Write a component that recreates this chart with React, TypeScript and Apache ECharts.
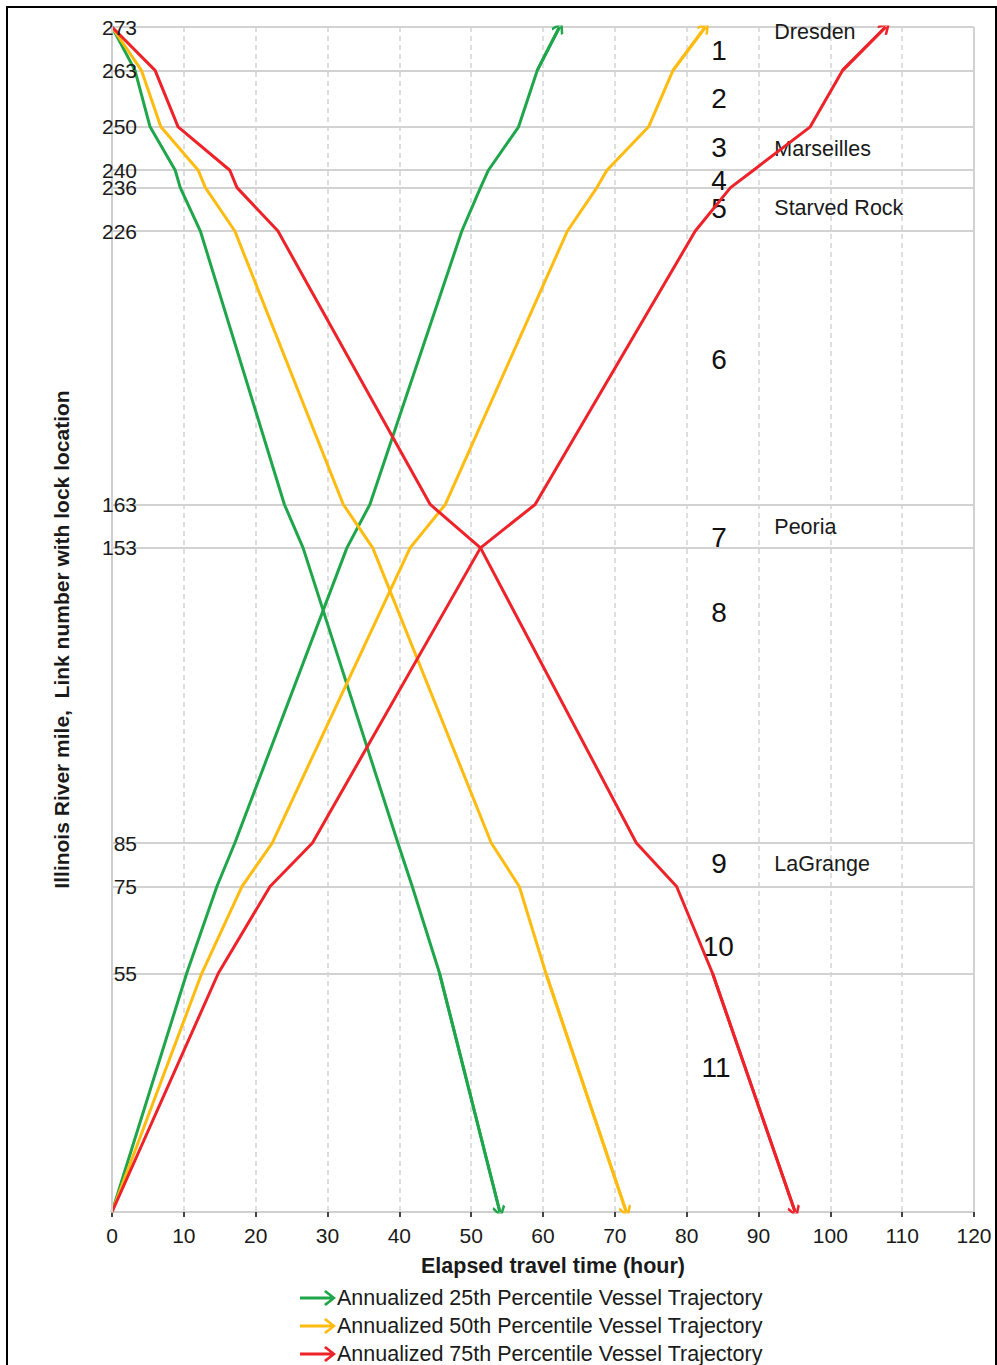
import React, { useEffect, useRef } from "react";
import * as echarts from "echarts";

// River miles, downstream order (Dresden -> mouth) and upstream order
const milesDown = [273, 263, 250, 240, 236, 226, 163, 153, 85, 75, 55, 0];
const milesUp = [0, 55, 75, 85, 153, 163, 226, 236, 240, 250, 263, 273];

// Elapsed travel time (hours) at each mile
const green25Down = [0, 3.2, 5.3, 8.8, 9.5, 12.3, 24.0, 26.6, 39.8, 41.8, 45.6, 54.0];
const green25Up = [0, 10.4, 14.6, 17.1, 32.7, 35.9, 48.7, 51.3, 52.4, 56.6, 59.2, 62.3];
const yellow50Down = [0, 4.1, 6.8, 12.0, 13.0, 17.1, 32.2, 36.3, 52.8, 56.7, 60.4, 71.6];
const yellow50Up = [0, 12.5, 18.1, 22.3, 41.5, 46.4, 63.4, 67.5, 68.9, 74.7, 78.1, 82.6];
const red75Down = [0, 6.0, 9.2, 16.4, 17.4, 23.1, 44.3, 51.3, 73.0, 78.6, 83.6, 95.1];
const red75Up = [0, 14.8, 22.0, 27.9, 51.3, 58.9, 81.2, 86.1, 89.3, 97.2, 101.7, 107.7];

// Y-axis tick labels (lock / link boundary miles)
const yTickValues = [55, 75, 85, 153, 163, 226, 236, 240, 250, 263, 273];

// Link numbers and their label positions (time, mile)
const linkNumbers = ["1", "2", "3", "4", "5", "6", "7", "8", "9", "10", "11"];
const linkLabelTime = [84.5, 84.5, 84.5, 84.5, 84.5, 84.5, 84.5, 84.5, 84.5, 84.4, 84.1];
const linkLabelMile = [267.7, 256.5, 245.2, 237.6, 231.1, 196.5, 155.3, 138.0, 80.2, 61.1, 33.2];

// Lock names
const lockNames = ["Dresden", "Marseilles", "Starved Rock", "Peoria", "LaGrange"];
const lockLabelTime = [92.2, 92.2, 92.2, 92.2, 92.2];
const lockLabelMile = [271.9, 244.9, 231.3, 157.8, 80.2];

const seriesNames = [
  "Annualized 25th Percentile Vessel Trajectory",
  "Annualized 50th Percentile Vessel Trajectory",
  "Annualized 75th Percentile Vessel Trajectory",
];
const seriesColors = ["#1fa64a", "#ffbb10", "#ee2229"];

const FONT = "'Liberation Sans', Arial, sans-serif";
const CHEVRON = "path://M0,10 L8,0 L16,10 L14,12 L8,4.5 L2,12 Z";
const LEGEND_ARROW =
  "path://M0,6.6 L29,6.6 L29,9.4 L0,9.4 Z M23,1 L32,8 L23,15 L21.3,13.2 L28.5,8 L21.3,2.8 Z";

export default function App() {
  const ref = useRef<HTMLDivElement>(null);

  useEffect(() => {
    document.body.style.margin = "0";
    if (!ref.current) return;
    const chart = echarts.init(ref.current, null, { renderer: "svg" });

    const trajectories = [
      { name: seriesNames[0], color: seriesColors[0], down: green25Down, up: green25Up },
      { name: seriesNames[1], color: seriesColors[1], down: yellow50Down, up: yellow50Up },
      { name: seriesNames[2], color: seriesColors[2], down: red75Down, up: red75Up },
    ];

    const series: any[] = [];
    trajectories.forEach((t) => {
      const downData = t.down.map((x, i) => [x, milesDown[i]]);
      const upData = t.up.map((x, i) => [x, milesUp[i]]);
      [downData, upData].forEach((d) => {
        series.push({
          type: "line",
          name: t.name,
          data: d,
          showSymbol: false,
          symbol: "none",
          lineStyle: { color: t.color, width: 3 },
          itemStyle: { color: t.color },
          z: 5,
        });
        const n = d.length;
        series.push({
          type: "lines",
          coordinateSystem: "cartesian2d",
          data: [{ coords: [d[n - 2], d[n - 1]] }],
          symbol: ["none", CHEVRON],
          symbolSize: [18, 13],
          lineStyle: { color: t.color, width: 3, opacity: 1 },
          itemStyle: { color: t.color },
          z: 6,
          silent: true,
        });
      });
    });

    // Annotations: link numbers, lock names, plus grid lines at lock miles
    series.push({
      type: "scatter",
      name: "links",
      symbolSize: 0,
      itemStyle: { opacity: 1 },
      data: linkNumbers.map((s, i) => [linkLabelTime[i], linkLabelMile[i], s]),
      label: {
        show: true,
        position: "inside",
        formatter: (p: any) => p.value[2],
        fontFamily: FONT,
        fontSize: 28,
        color: "#111",
        opacity: 1,
      },
      z: 4,
      silent: true,
      markLine: {
        silent: true,
        symbol: "none",
        label: { show: false },
        lineStyle: { color: "#d2d2d2", width: 2, type: "solid" },
        data: [
          ...yTickValues.map((v) => ({ yAxis: v })),
          { xAxis: 120 },
        ],
        z: 1,
      },
    });
    series.push({
      type: "scatter",
      name: "locks",
      symbolSize: 0,
      itemStyle: { opacity: 1 },
      data: lockNames.map((s, i) => [lockLabelTime[i], lockLabelMile[i], s]),
      label: {
        show: true,
        position: "right",
        distance: 0,
        formatter: (p: any) => p.value[2],
        fontFamily: FONT,
        fontSize: 21.5,
        color: "#1a1a1a",
        opacity: 1,
      },
      z: 4,
      silent: true,
    });

    const legendTops = [1287, 1315, 1343];
    const legends = seriesNames.map((n, i) => ({
      data: [{ name: n, icon: LEGEND_ARROW }],
      orient: "horizontal",
      left: 300,
      top: legendTops[i],
      padding: 0,
      itemWidth: 36,
      itemHeight: 16,
      itemGap: 0,
      selectedMode: false,
      symbolKeepAspect: false,
      textStyle: {
        fontFamily: FONT,
        fontSize: 21.5,
        lineHeight: 16,
        color: "#1a1a1a",
        padding: [0, 0, 0, -4],
      },
    }));

    chart.setOption({
      animation: false,
      backgroundColor: "#fff",
      textStyle: { fontFamily: FONT },
      grid: { left: 112, right: 23, top: 27, bottom: 153, containLabel: false },
      xAxis: {
        type: "value",
        min: 0,
        max: 120,
        interval: 10,
        name: "Elapsed travel time (hour)",
        nameLocation: "middle",
        nameGap: 43,
        nameTextStyle: {
          fontFamily: FONT,
          fontSize: 21.5,
          fontWeight: "bold",
          color: "#1a1a1a",
          padding: [0, 0, 0, 20],
        },
        axisLine: { show: true, lineStyle: { color: "#cfcfcf", width: 2 } },
        axisTick: { show: true, length: 5, lineStyle: { color: "#444", width: 2 } },
        axisLabel: { fontFamily: FONT, fontSize: 21, color: "#1a1a1a", margin: 13 },
        splitLine: {
          show: true,
          lineStyle: { color: "#d4d4d4", width: 1.5, type: [5, 4] },
        },
      },
      yAxis: {
        type: "value",
        min: 0,
        max: 273,
        name: "Illinois River mile,  Link number with lock location",
        nameLocation: "middle",
        nameGap: 40,
        nameTextStyle: {
          fontFamily: FONT,
          fontSize: 21,
          fontWeight: "bold",
          color: "#1a1a1a",
          padding: [0, 40, 0, 0],
        },
        axisLine: { show: true, lineStyle: { color: "#cfcfcf", width: 2 } },
        axisTick: { show: false },
        splitLine: { show: false },
        z: 10,
        axisLabel: {
          customValues: yTickValues,
          fontFamily: FONT,
          fontSize: 21,
          color: "#1a1a1a",
          margin: -25,
          align: "right",
        },
      },
      legend: legends,
      graphic: [
        {
          type: "rect",
          shape: { x: 7, y: 7, width: 989, height: 1400 },
          style: { fill: "none", stroke: "#000", lineWidth: 2 },
          silent: true,
        },
      ],
      series,
    });

    return () => chart.dispose();
  }, []);

  return <div ref={ref} style={{ width: 997, height: 1365 }} />;
}
